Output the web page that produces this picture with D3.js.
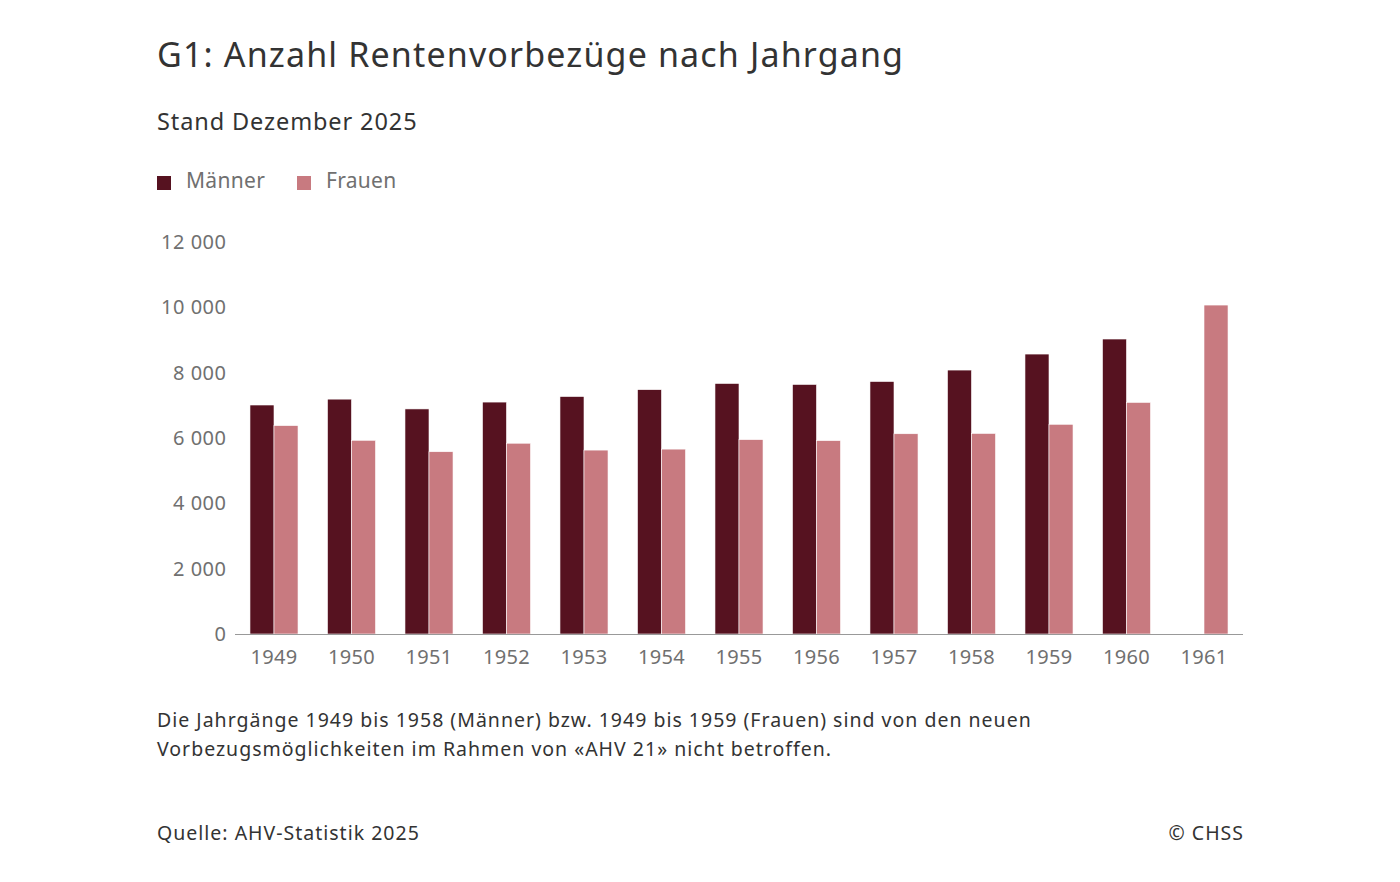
<!DOCTYPE html>
<html>
<head>
<meta charset="utf-8">
<script src="https://cdn.jsdelivr.net/npm/d3@7"></script>
<style>
  body { margin: 0; background: #fff; }
  svg { display: block; font-family: "Noto Sans", "Open Sans", sans-serif; }
</style>
</head>
<body>
<svg></svg>
<script>
// Jahrgänge und Werte
const years = ["1949", "1950", "1951", "1952", "1953", "1954", "1955", "1956", "1957", "1958", "1959", "1960", "1961"];
const maenner = [7010, 7190, 6890, 7100, 7270, 7480, 7670, 7640, 7730, 8080, 8570, 9030, null];
const frauen = [6380, 5930, 5580, 5840, 5630, 5660, 5950, 5920, 6130, 6140, 6420, 7090, 10070];
const seriesNames = ["Männer", "Frauen"];
const colors = ["#561220", "#c87a80"];
const yTicks = [0, 2000, 4000, 6000, 8000, 10000, 12000];

const width = 1400;
const height = 882;

const svg = d3.select("svg")
    .attr("width", width)
    .attr("height", height);

// Titel
svg.append("text")
    .attr("x", 157).attr("y", 67)
    .attr("font-size", 34)
    .attr("letter-spacing", 1.15)
    .attr("fill", "#333")
    .text("G1: Anzahl Rentenvorbezüge nach Jahrgang");

svg.append("text")
    .attr("x", 157).attr("y", 130)
    .attr("font-size", 23.5)
    .attr("letter-spacing", 0.9)
    .attr("fill", "#333")
    .text("Stand Dezember 2025");

// Legende
const legendX = [157, 297];
seriesNames.forEach((name, i) => {
    svg.append("rect")
        .attr("x", legendX[i]).attr("y", 176)
        .attr("width", 14).attr("height", 14)
        .attr("fill", colors[i]);
    svg.append("text")
        .attr("x", legendX[i] + 29).attr("y", 188)
        .attr("font-size", 21)
        .attr("letter-spacing", 0.3)
        .attr("fill", "#707070")
        .text(name);
});

const x0 = d3.scaleBand()
    .domain(years)
    .range([235.25, 1242.75])
    .paddingInner(0.38)
    .paddingOuter(0.19);

const x1 = d3.scaleBand()
    .domain(seriesNames)
    .range([0, x0.bandwidth()]);

const y = d3.scaleLinear()
    .domain([0, 12000])
    .range([634, 242]);

const fmt = v => d3.format(",")(v).replace(/,/g, " ");

// y-Achse Beschriftung
svg.append("g")
    .selectAll("text")
    .data(yTicks)
    .enter()
    .append("text")
    .attr("x", 226.5)
    .attr("y", d => y(d))
    .attr("dy", "0.35em")
    .attr("text-anchor", "end")
    .attr("font-size", 20)
    .attr("letter-spacing", 0.5)
    .attr("fill", "#707070")
    .text(d => fmt(d));

// Balken
const rows = years.map((yr, i) => ({ year: yr, values: [maenner[i], frauen[i]] }));

const groups = svg.append("g")
    .selectAll("g")
    .data(rows)
    .enter()
    .append("g")
    .attr("transform", d => `translate(${x0(d.year)},0)`);

groups.selectAll("rect")
    .data(d => d.values.map((v, i) => ({ key: seriesNames[i], value: v, i: i })).filter(d => d.value !== null))
    .enter()
    .append("rect")
    .attr("x", d => x1(d.key))
    .attr("y", d => y(d.value))
    .attr("width", x1.bandwidth())
    .attr("height", d => y(0) - y(d.value))
    .attr("fill", d => colors[d.i])
    .attr("stroke", "#fff")
    .attr("stroke-width", 0.6);

// x-Achse
svg.append("line")
    .attr("x1", 235).attr("x2", 1243)
    .attr("y1", 634.5).attr("y2", 634.5)
    .attr("stroke", "#999")
    .attr("stroke-width", 1);

svg.append("g")
    .selectAll("text")
    .data(years)
    .enter()
    .append("text")
    .attr("x", d => x0(d) + x0.bandwidth() / 2)
    .attr("y", 664)
    .attr("text-anchor", "middle")
    .attr("font-size", 20)
    .attr("letter-spacing", 0.3)
    .attr("fill", "#707070")
    .text(d => d);

// Fussnote
const notes = [
    "Die Jahrgänge 1949 bis 1958 (Männer) bzw. 1949 bis 1959 (Frauen) sind von den neuen",
    "Vorbezugsmöglichkeiten im Rahmen von «AHV 21» nicht betroffen."
];
svg.append("g")
    .selectAll("text")
    .data(notes)
    .enter()
    .append("text")
    .attr("x", 157)
    .attr("y", (d, i) => 727 + i * 29)
    .attr("font-size", 19.5)
    .attr("letter-spacing", 1)
    .attr("fill", "#333")
    .text(d => d);

svg.append("text")
    .attr("x", 157).attr("y", 840)
    .attr("font-size", 19.5)
    .attr("letter-spacing", 1)
    .attr("fill", "#333")
    .text("Quelle: AHV-Statistik 2025");

svg.append("text")
    .attr("x", 1244).attr("y", 840)
    .attr("text-anchor", "end")
    .attr("font-size", 19.5)
    .attr("letter-spacing", 1)
    .attr("fill", "#333")
    .text("© CHSS");
</script>
</body>
</html>
